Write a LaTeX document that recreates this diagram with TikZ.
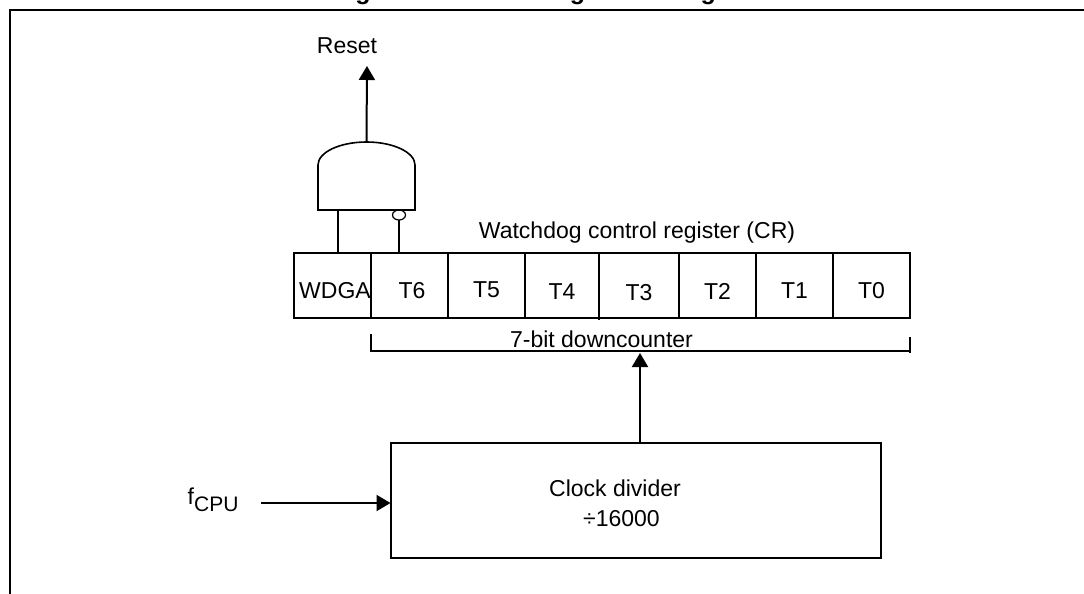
\documentclass[tikz,border=0pt]{standalone}
\usepackage{fontspec}
\setmainfont{Liberation Sans}
\usepackage{xcolor}
\usepackage{tikz}
\usetikzlibrary{shapes.geometric, arrows.meta, positioning}

\begin{document}
\begin{tikzpicture}[
  x=1pt, y=1pt,
  font=\fontsize{23}{30}\selectfont,
  line/.style={line width=2pt},
  cell/.style={rectangle, draw, line width=2pt, outer sep=0pt, inner sep=0pt,
               minimum width=77pt, minimum height=65pt, text depth=0pt, text height=25pt},
  box/.style={rectangle, draw, line width=2pt, outer sep=0pt,
              minimum width=490.5pt, minimum height=115pt},
  gatebody/.style={rectangle, outer sep=0pt, inner sep=0pt,
                   minimum width=97pt, minimum height=68pt},
  bubble/.style={ellipse, draw, line width=1.2pt, outer sep=0pt, inner sep=0pt,
                 minimum width=13pt, minimum height=10pt},
  txt/.style={anchor=base, inner sep=0pt},
  arrow/.style={-{Triangle[length=14pt, width=16pt]}, line width=2pt}
]
\useasboundingbox (0,0) rectangle (1084,-594);
\clip (0,0) rectangle (1084,-594);

\node[anchor=base west, inner sep=0pt, font=\fontsize{25}{30}\selectfont\bfseries] (title) at (333,0.5)
  {Figure 30.\hspace{14pt}Watchdog block diagram};

\coordinate (framebl) at (10,-594);
\coordinate (frametl) at (10,-10);
\coordinate (frametr) at (1084,-10);
\draw[line] (framebl) -- (frametl) -- (frametr);

% register cells
\node[cell] (wdga) at (332.5,-285.5) {\hspace*{5pt}WDGA};
\node[cell, right=0pt of wdga] (t6) {\hspace*{5pt}T6};
\node[cell, right=0pt of t6, text height=23pt] (t5) {T5};
\node[cell, right=0pt of t5, minimum width=74pt, text height=27pt] (t4) {T4};
\node[cell, right=0pt of t4, minimum width=80pt, text height=29pt] (t3) {T3};
\node[cell, right=0pt of t3, text height=27pt] (t2) {T2};
\node[cell, right=0pt of t2] (t1) {T1};
\node[cell, right=0pt of t1] (t0) {T0};
\node[txt] (crlabel) at (637,-238) {Watchdog control register (CR)};

% gate
\node[gatebody] (gate) at (366.5,-176) {};
\draw[line width=1.6pt] (gate.south west) -- ([yshift=-23pt]gate.north west)
  arc[start angle=180, end angle=0, x radius=48.5pt, y radius=23pt]
  -- (gate.south east) -- cycle;
\node[bubble] (inv) at (399,-215) {};
\node[txt] (reset) at (347,-54) {Reset};
\coordinate (resettip) at (367,-66);

\draw[arrow] (gate.north) -- (resettip);
\draw[line] ([xshift=5.5pt]wdga.north) -- ([xshift=5.5pt]wdga.north |- gate.south);
\draw[line] (inv.south) -- (inv.south |- t6.north);

% counter bracket
\coordinate (brleft) at (371,-351);
\coordinate (brright) at (910,-351);
\coordinate (brin) at (640,-353);
\node[txt] (counter) at (601.5,-347) {7-bit downcounter};
\draw[line] ([yshift=17pt]brleft) -- (brleft) -- (brright);
\draw[line] ([yshift=14pt]brright) -- ([yshift=-2pt]brright);
\draw[line] (t3.south west) -- ++(0,-2);

% clock divider
\node[box] (clock) at (635.75,-500.5) {};
\node[inner sep=0pt, align=center] (clocktext) at (615,-503) {Clock divider\\\hspace*{13pt}÷16000};
\node[txt, anchor=base west] (fcpu) at (187.5,-504) {f\raisebox{-7pt}{\fontsize{21}{21}\selectfont CPU}};
\coordinate (fcpuout) at (261,-503);

\draw[arrow] (clock.north -| brin) -- (brin);
\draw[arrow] (fcpuout) -- (clock.west |- fcpuout);

\end{tikzpicture}
\end{document}
